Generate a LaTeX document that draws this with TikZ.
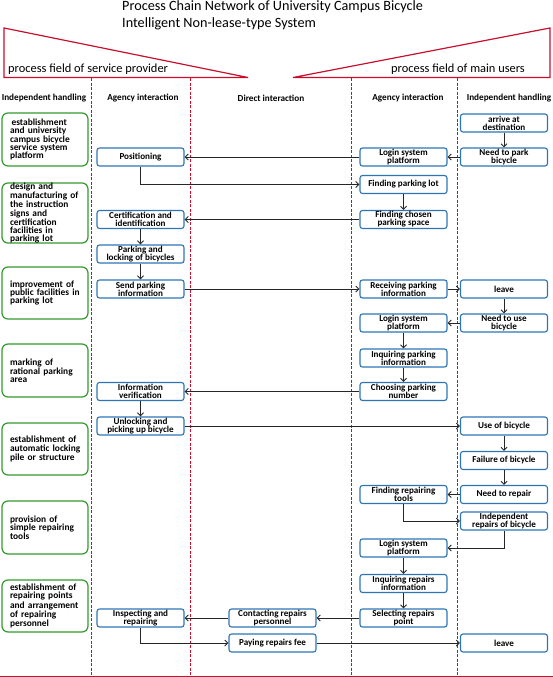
\documentclass[tikz,border=0pt]{standalone}
\usepackage{fontspec}
\setmainfont{Carlito}
\usetikzlibrary{arrows.meta}
\definecolor{redline}{HTML}{C8102E}
\definecolor{bluebox}{HTML}{2E75B6}
\definecolor{greenbox}{HTML}{349A2E}
\begin{document}
\begin{tikzpicture}[x=1pt,y=-1pt,
  bbox/.style={draw=bluebox, line width=1.1pt, rounded corners=2.5pt, fill=white,
    minimum width=87pt, minimum height=18pt, inner sep=0pt, align=center,
    font=\fontsize{9.1}{8.1}\selectfont\bfseries},
  gbox/.style={draw=greenbox, line width=1.2pt, rounded corners=6pt, fill=white,
    minimum width=86pt, text width=78pt, inner xsep=4pt, inner ysep=0pt, align=left,
    execute at begin node={\leftskip=4pt},
    font=\fontsize{9.4}{8.1}\selectfont\bfseries},
  arr/.style={-{Straight Barb[length=3pt,width=6pt]}, line width=1pt, draw=black!85},
  divider/.style={draw=redline, line width=1pt, dash pattern=on 3pt off 1.5pt},
  tri/.style={draw=redline, line width=1.2pt, line join=miter},
  hdr/.style={font=\fontsize{9.2}{9.2}\selectfont\bfseries, inner sep=0pt}
]
\useasboundingbox (0,0) rectangle (553,677);

% title
\node[anchor=north west, inner sep=0pt, align=left, font=\fontsize{14.2}{17}\selectfont]
  (title) at (122,0) {Process Chain Network of University Campus Bicycle\\Intelligent Non-lease-type System};

% field triangles
\draw[tri] (4,28) -- (4,77.5) -- (248,77.5) -- cycle;
\draw[tri] (293,77.5) -- (550,28) -- (550,77.5) -- cycle;
\node[anchor=west, inner sep=0pt, font=\fontsize{12.4}{12.4}\selectfont] (fsp) at (8,69) {process field of service provider};
\node[anchor=east, inner sep=0pt, font=\fontsize{12.4}{12.4}\selectfont] (fmu) at (525,69) {process field of main users};

% dividers
\draw[divider] (91,78) -- (91,676);
\draw[divider] (190.5,78) -- (190.5,676);
\draw[divider] (351,78) -- (351,676);
\draw[divider] (457,78) -- (457,676);
\draw[draw=redline, line width=1.6pt] (0,676.5) -- (553,676.5);

% headers
\node[hdr] (h1) at (44,98) {Independent handling};
\node[hdr] (h2) at (143,98) {Agency interaction};
\node[hdr] (h3) at (271,98) {Direct interaction};
\node[hdr] (h4) at (408,98) {Agency interaction};
\node[hdr] (h5) at (509,98) {Independent handling};

% green boxes
\node[gbox, minimum height=53pt] (g1) at (45,139.5) {\,establishment\\and university\\campus bicycle\\service system\\platform};
\node[gbox, minimum height=60pt] (g2) at (45,213) {design and\\manufacturing of\\the instruction\\signs and\\certification\\facilities in\\parking lot};
\node[gbox, minimum height=52pt] (g3) at (45,293) {improvement of\\public facilities in\\parking lot};
\node[gbox, minimum height=53pt] (g4) at (45,370.5) {marking of\\rational parking\\area};
\node[gbox, minimum height=52pt] (g5) at (45,449) {establishment of\\automatic locking\\pile or structure};
\node[gbox, minimum height=53pt] (g6) at (45,527.5) {provision of\\simple repairing\\tools};
\node[gbox, minimum height=52pt] (g7) at (45,606) {establishment of\\repairing points\\and arrangement\\of repairing\\personnel};

% left agency column
\node[bbox] (pos) at (140.5,157) {Positioning};
\node[bbox] (cert) at (140.5,219.5) {Certification and\\identification};
\node[bbox] (park) at (140.5,254) {Parking and\\locking of bicycles};
\node[bbox] (send) at (140.5,289) {Send parking\\information};
\node[bbox] (info) at (140.5,391.5) {Information\\verification};
\node[bbox] (unlock) at (140.5,426) {Unlocking and\\picking up bicycle};
\node[bbox] (insp) at (140.5,618) {Inspecting and\\repairing};

% direct column
\node[bbox] (contact) at (272.5,618) {Contacting repairs\\personnel};
\node[bbox] (pay) at (272.5,643) {Paying repairs fee};

% right agency column
\node[bbox] (login1) at (403.5,157) {Login system\\platform};
\node[bbox] (findlot) at (403.5,184.5) {Finding parking lot};
\node[bbox] (findspace) at (403.5,219.5) {Finding chosen\\parking space};
\node[bbox] (recv) at (403.5,289) {Receiving parking\\information};
\node[bbox] (login2) at (403.5,323) {Login system\\platform};
\node[bbox] (inq) at (403.5,358) {Inquiring parking\\information};
\node[bbox] (choose) at (403.5,391.5) {Choosing parking\\number};
\node[bbox] (tools) at (403.5,494.5) {Finding repairing\\tools};
\node[bbox] (login3) at (403.5,548) {Login system\\platform};
\node[bbox] (inqr) at (403.5,583.5) {Inquiring repairs\\information};
\node[bbox] (select) at (403.5,618) {Selecting repairs\\point};

% right independent column
\node[bbox] (arrive) at (504,123) {arrive at\\destination};
\node[bbox] (needpark) at (504,157) {Need to park\\bicycle};
\node[bbox] (leave1) at (504,289) {leave};
\node[bbox] (needuse) at (504,323) {Need to use\\bicycle};
\node[bbox] (use) at (504,426) {Use of bicycle};
\node[bbox] (fail) at (504,460.5) {Failure of bicycle};
\node[bbox] (needrep) at (504,494.5) {Need to repair};
\node[bbox] (indep) at (504,521) {Independent\\repairs of bicycle};
\node[bbox] (leave2) at (504,643) {leave};

% connectors
\draw[arr] (arrive) -- (needpark);
\draw[arr] (needpark) -- (login1);
\draw[arr] (login1) -- (pos);
\draw[arr] (pos.south) |- (findlot.west);
\draw[arr] (findlot) -- (findspace);
\draw[arr] (findspace) -- (cert);
\draw[arr] (cert) -- (park);
\draw[arr] (park) -- (send);
\draw[arr] (send) -- (recv);
\draw[arr] (recv) -- (leave1);
\draw[arr] (leave1) -- (needuse);
\draw[arr] (needuse) -- (login2);
\draw[arr] (login2) -- (inq);
\draw[arr] (inq) -- (choose);
\draw[arr] (choose) -- (info);
\draw[arr] (info) -- (unlock);
\draw[arr] (unlock) -- (use);
\draw[arr] (use) -- (fail);
\draw[arr] (fail) -- (needrep);
\draw[arr] (needrep) -- (tools);
\draw[arr] (tools.south) |- (indep.west);
\draw[arr] (indep.south) |- (login3.east);
\draw[arr] (login3) -- (inqr);
\draw[arr] (inqr) -- (select);
\draw[arr] (select) -- (contact);
\draw[arr] (contact) -- (insp);
\draw[arr] (insp.south) |- (pay.west);
\draw[arr] (pay) -- (leave2);
\end{tikzpicture}
\end{document}
